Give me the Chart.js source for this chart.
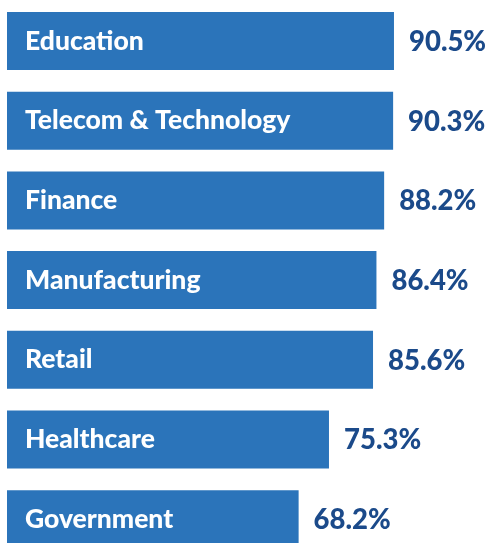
<!DOCTYPE html>
<html>
<head>
<meta charset="utf-8">
<script src="https://cdn.jsdelivr.net/npm/chart.js@4"></script>
<style>
  html, body { margin: 0; padding: 0; background: #ffffff; overflow: hidden; }
  #wrap { position: relative; width: 487px; height: 559px; }
</style>
</head>
<body>
<div id="wrap"><canvas id="c"></canvas></div>
<script>
const categories = ["Education", "Telecom & Technology", "Finance", "Manufacturing", "Retail", "Healthcare", "Government"];
const values = [90.5, 90.3, 88.2, 86.4, 85.6, 75.3, 68.2];
const valueLabels = ["90.5%", "90.3%", "88.2%", "86.4%", "85.6%", "75.3%", "68.2%"];

const BAR_COLOR = "#2B74BA";
const VALUE_COLOR = "#1B4A8A";

const labelPlugin = {
  id: "barLabels",
  afterDatasetsDraw(chart) {
    const ctx = chart.ctx;
    const meta = chart.getDatasetMeta(0);
    ctx.save();
    ctx.textBaseline = "middle";
    meta.data.forEach((bar, i) => {
      const left = bar.base;
      ctx.fillStyle = "#ffffff";
      ctx.font = "900 26.5px Lato";
      ctx.textAlign = "left";
      ctx.fillText(categories[i], left + 18, bar.y);
      ctx.fillStyle = VALUE_COLOR;
      ctx.font = "900 27.5px Lato";
      ctx.fillText(valueLabels[i], bar.x + 15, bar.y + 1);
    });
    ctx.restore();
  }
};

new Chart(document.getElementById("c"), {
  type: "bar",
  data: {
    labels: categories,
    datasets: [{
      data: values,
      backgroundColor: BAR_COLOR,
      borderWidth: 0,
      barPercentage: 0.728,
      categoryPercentage: 1.0
    }]
  },
  options: {
    indexAxis: "y",
    responsive: true,
    maintainAspectRatio: false,
    animation: false,
    layout: { padding: { left: 7, right: 52.4, top: 1.2, bottom: 0 } },
    plugins: { legend: { display: false }, tooltip: { enabled: false } },
    scales: {
      x: { display: false, min: 0, max: 100 },
      y: { display: false }
    }
  },
  plugins: [labelPlugin]
});
</script>
</body>
</html>
